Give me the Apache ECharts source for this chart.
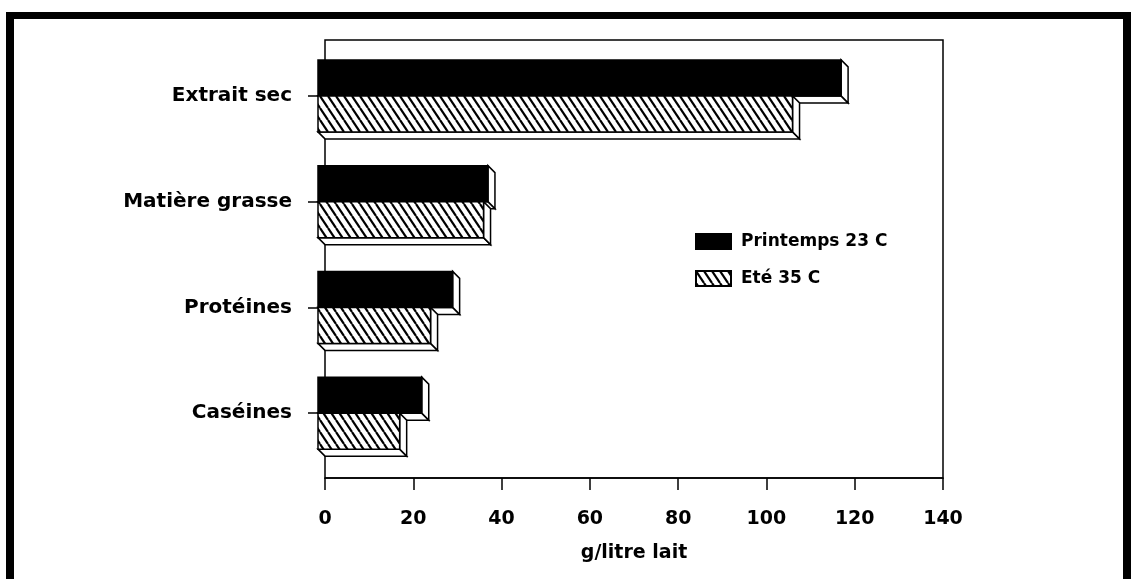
<!DOCTYPE html>
<html><head><meta charset="utf-8">
<script src="https://cdn.jsdelivr.net/npm/echarts@6/dist/echarts.min.js"></script>
<style>html,body{margin:0;padding:0;background:#fff}#c{width:1131px;height:579px}</style>
</head><body><div id="c"></div>
<script>
const categories = ['Extrait sec', 'Matière grasse', 'Protéines', 'Caséines'];
const printemps = [118.5, 38.5, 30.5, 23.5];
const ete = [107.5, 37.5, 25.5, 18.5];
const seriesNames = ['Printemps 23 C', 'Eté 35 C'];
const axisTitle = 'g/litre lait';
const xMin = 0, xMax = 140, xStep = 20;

const FONT = '"DejaVu Sans", Verdana, sans-serif';

// hatch pattern "\\\\"
const tile = document.createElement('canvas');
tile.width = 8; tile.height = 12;
(function(){
  const c = tile.getContext('2d');
  c.fillStyle = '#fff'; c.fillRect(0,0,8,12);
  c.strokeStyle = '#000'; c.lineWidth = 2.2;
  [-8,0,8].forEach(function(o){
    c.beginPath(); c.moveTo(o,0); c.lineTo(o+8,12); c.stroke();
  });
})();
const hatch = {image: tile, repeat: 'repeat'};

function makeRender(which){
  return function(params, api){
    const v = api.value(0);
    const i = api.value(1);
    const p0 = api.coord([0, i]);
    const p1 = api.coord([v, i]);
    const D = 7, H = 36;
    const x0 = p0[0] - D, x1 = p1[0] - D;
    const cy = p0[1];
    const yt = which === 0 ? cy - H : cy;
    const yb = which === 0 ? cy : cy + H;
    const st = {fill: '#fff', stroke: '#000', lineWidth: 1.5};
    return {type: 'group', children: [
      {type: 'polygon', shape: {points: [[x0, yb], [x1, yb], [x1 + D, yb + D], [x0 + D, yb + D]]}, style: st},
      {type: 'polygon', shape: {points: [[x1, yt], [x1 + D, yt + D], [x1 + D, yb + D], [x1, yb]]}, style: st},
      {type: 'rect', shape: {x: x0, y: yt, width: x1 - x0, height: yb - yt},
        style: {fill: which === 0 ? '#000' : hatch, stroke: '#000', lineWidth: 1.5}}
    ]};
  };
}

const chart = echarts.init(document.getElementById('c'), null, {renderer: 'canvas'});
chart.setOption({
  animation: false,
  backgroundColor: '#fff',
  graphic: [
    {type: 'rect', shape: {x: 6, y: 12, width: 1125, height: 7}, style: {fill: '#000'}},
    {type: 'rect', shape: {x: 6, y: 12, width: 8, height: 567}, style: {fill: '#000'}},
    {type: 'rect', shape: {x: 1123, y: 12, width: 8, height: 567}, style: {fill: '#000'}}
  ],
  legend: {
    orient: 'vertical', left: 690, top: 228, itemGap: 20,
    itemWidth: 35, itemHeight: 15, icon: 'rect',
    data: seriesNames,
    textStyle: {fontFamily: FONT, fontWeight: 'bold', fontSize: 17, color: '#000', padding: [0, 0, 0, 5]}
  },
  grid: [
    {left: 325, top: 40, width: 618, height: 438, show: true, borderColor: '#000', borderWidth: 1.5, backgroundColor: 'transparent'},
    {left: 325, top: 43, width: 618, height: 423, show: false}
  ],
  xAxis: [
    {type: 'value', gridIndex: 0, min: xMin, max: xMax, interval: xStep,
     axisLine: {show: true, lineStyle: {color: '#000', width: 1.5}},
     axisTick: {show: true, length: 12, lineStyle: {color: '#000', width: 1.5}},
     splitLine: {show: false},
     axisLabel: {margin: 32, color: '#000', fontFamily: FONT, fontWeight: 'bold', fontSize: 19},
     name: axisTitle, nameLocation: 'middle', nameGap: 66,
     nameTextStyle: {color: '#000', fontFamily: FONT, fontWeight: 'bold', fontSize: 19}},
    {type: 'value', gridIndex: 1, min: xMin, max: xMax, interval: xStep, show: false}
  ],
  yAxis: [
    {type: 'value', gridIndex: 0, show: false},
    {type: 'category', gridIndex: 1, data: categories, inverse: true,
     axisLine: {show: false},
     axisTick: {show: true, alignWithLabel: true, length: 17, lineStyle: {color: '#000', width: 1.5}},
     axisLabel: {margin: 33, color: '#000', fontFamily: FONT, fontWeight: 'bold', fontSize: 20},
     splitLine: {show: false}}
  ],
  series: [
    {name: seriesNames[0], type: 'custom', xAxisIndex: 1, yAxisIndex: 1,
     itemStyle: {color: '#000', borderColor: '#000', borderWidth: 1.5},
     renderItem: makeRender(0), data: printemps.map(function(v, i){ return [v, i]; })},
    {name: seriesNames[1], type: 'custom', xAxisIndex: 1, yAxisIndex: 1,
     itemStyle: {color: hatch, borderColor: '#000', borderWidth: 1.5},
     renderItem: makeRender(1), data: ete.map(function(v, i){ return [v, i]; })}
  ]
});
</script>
</body></html>
